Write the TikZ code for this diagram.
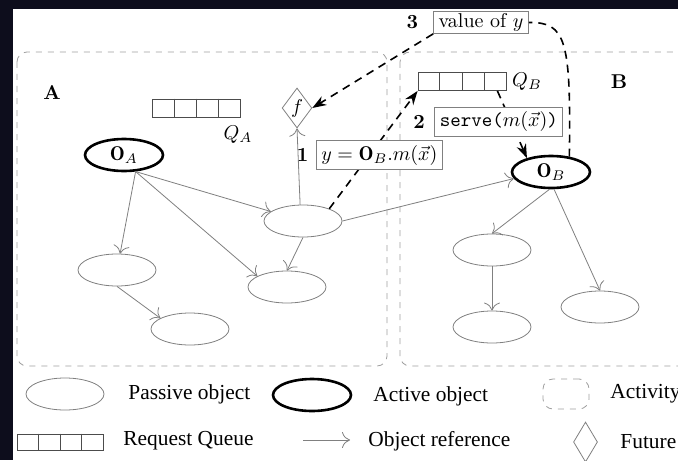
\documentclass[tikz,border=0pt]{standalone}
\usepackage{fontspec}
\newfontfamily\legendfont{Liberation Serif}
\usetikzlibrary{shapes.geometric,arrows.meta,calc}
\definecolor{slidebg}{RGB}{13,13,28}

\begin{document}
\begin{tikzpicture}[x=0.5pt,y=-0.5pt,
    passive/.style={ellipse,draw=gray,minimum width=39pt,minimum height=16pt,inner sep=0pt},
    active/.style={passive,draw=black,line width=1.3pt},
    activity/.style={draw=gray!75,dashed,rounded corners=5pt},
    queue/.style={draw=black!70,minimum width=44pt,minimum height=9pt,inner sep=0pt},
    future/.style={diamond,draw=gray,inner sep=0pt,minimum width=12pt,minimum height=20pt},
    ref/.style={gray,-{To[length=4pt,width=8pt]}},
    msgline/.style={dash pattern=on 4pt off 3pt,thick},
    msg/.style={msgline,-{Stealth[length=7pt,width=5pt]}},
    lbl/.style={draw=gray,fill=white,solid,thin,inner xsep=2.5pt,inner ysep=1pt},
    legend/.style={anchor=west,inner sep=0pt,font=\legendfont\fontsize{10.7}{12}\selectfont}]
  \useasboundingbox (0,0) rectangle (678,460);
  \fill[slidebg] (0,0) rectangle (678,460);
  \fill[white] (13,9) rectangle (678,460);

  \draw[activity] (17,52) rectangle (387,366);
  \draw[activity] (400,52) rectangle (720,366);
  \node[font=\bfseries] (la) at (52,93) {A};
  \node[font=\bfseries] (lb) at (619,82) {B};

  \node[queue] (qa) at (196.5,108) {};
  \node (qalbl) at (238,135) {$Q_A$};
  \node[queue] (qb) at (462,81.5) {};
  \node (qblbl) at (527,82) {$Q_B$};

  \node[active] (oa) at (124,155) {$\mathbf{O}_A$};
  \node[active] (ob) at (551,172) {$\mathbf{O}_B$};
  \node[future] (f) at (297,108) {$f$};

  \node[passive] (p1) at (303,221) {};
  \node[passive] (p2) at (287,287) {};
  \node[passive] (p3) at (117,270) {};
  \node[passive] (p4) at (190,329) {};
  \node[passive] (p5) at (492,250) {};
  \node[passive] (p6) at (492,327) {};
  \node[passive] (p7) at (600,307) {};

  \draw[ref] (oa.-55) -- (p3);
  \draw[ref] (oa.-55) -- (p1);
  \draw[ref] (oa.-55) -- (p2.160);
  \draw[ref] (p1.south) -- (p2.north);
  \draw[ref] (p3.south) -- (p4.160);
  \draw[ref] (p1.100) -- (f.south);
  \draw[ref] (p1.east) -- (ob.190);
  \draw[ref] (ob.265) -- (p5.north);
  \draw[ref] (ob.280) -- (p7.north);
  \draw[ref] (p5.south) -- (p6.north);

  \draw[msg] (p1.25) -- node[lbl,pos=0.454,xshift=5pt,minimum height=14.5pt,
    label={[font=\bfseries,label distance=0pt]left:1}] (call) {$y=\mathbf{O}_B.m(\vec{x})$} (qb.south west);
  \draw[msg] ($(qb.south east)+(-9,0)$) -- node[lbl,pos=0.455,xshift=-6pt,minimum height=14.5pt,
    label={[font=\bfseries,label distance=1pt]left:2}] (serve) {\texttt{serve(}$m(\vec{x})$\texttt{)}} (ob.150);
  \node[lbl,minimum height=10.5pt,label={[font=\bfseries,label distance=4pt]left:3}] (val) at (481,22.5) {value of $y$};
  \draw[msgline] (ob.40) .. controls (571,40) and (566,22) .. (val.east);
  \draw[msg] (val.south west) -- (f.east);

  \node[passive] (lpas) at (65,394) {};
  \node[legend] (tpas) at (128,394) {Passive object};
  \node[active] (lact) at (312,395) {};
  \node[legend] (tact) at (373,396) {Active object};
  \node[activity,minimum width=23pt,minimum height=15pt] (lacy) at (566,394) {};
  \node[legend] (tacy) at (610,394) {Activity};
  \node[queue,minimum width=43pt,minimum height=8pt] (lque) at (60,442) {};
  \node[legend] (tque) at (123,441) {Request Queue};
  \coordinate (lref1) at (303,440);
  \coordinate (lref2) at (350,440);
  \draw[ref] (lref1) -- (lref2);
  \node[legend] (tref) at (368,441) {Object reference};
  \node[future] (lfut) at (585.5,442) {};
  \node[legend] (tfut) at (620,442) {Future};

  \foreach \q in {qa,qb,lque}
    \foreach \i in {1,2,3}
      \draw[black!70] ($(\q.north west)!\i/4!(\q.north east)$) -- ($(\q.south west)!\i/4!(\q.south east)$);
\end{tikzpicture}
\end{document}
